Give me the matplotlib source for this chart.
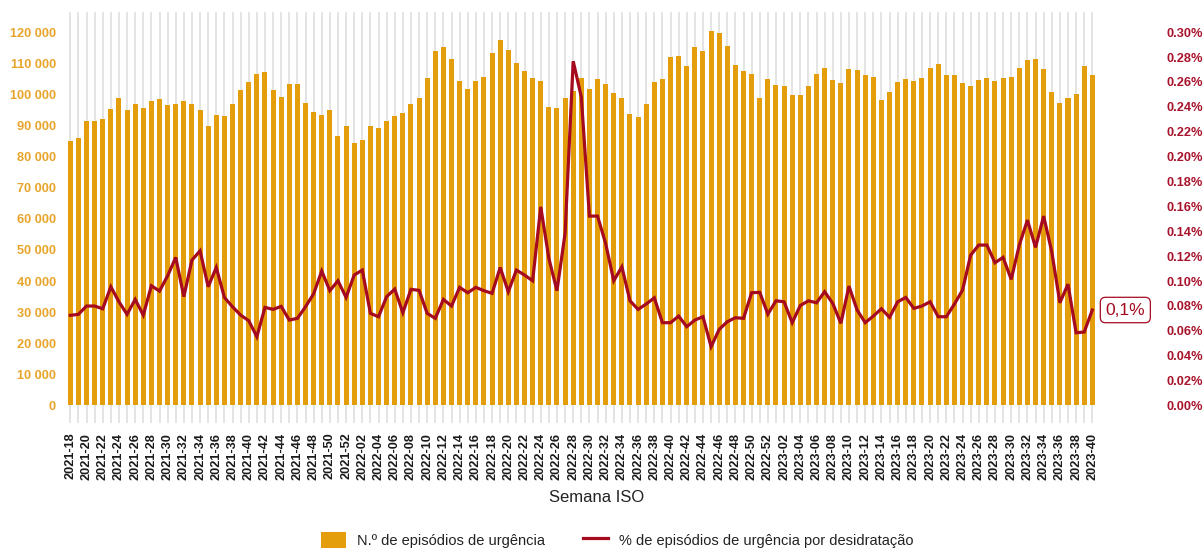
import matplotlib
matplotlib.use("Agg")
import matplotlib.pyplot as plt
from matplotlib.ticker import FuncFormatter, MultipleLocator, FixedLocator
import numpy as np

# ---------------- data ----------------
weeks = [f"2021-{w:02d}" for w in range(18, 53)] + \
        [f"2022-{w:02d}" for w in range(1, 53)] + \
        [f"2023-{w:02d}" for w in range(1, 41)]

episodios = [
    85000, 86000, 91400, 91500, 92100, 95300, 98700, 95100, 96800, 95600,
    97900, 98500, 96600, 97000, 97800, 97000, 94900, 89900, 93400, 93000,
    97000, 101400, 104100, 106500, 107200, 101500, 99100, 103200, 103500, 97300,
    94400, 93500, 95100, 86500, 89700, 84300, 85500, 89700, 89100, 91300,
    93000, 94000, 96800, 99000, 105300, 113900, 115100, 111400, 104200, 101600,
    104400, 105600, 113300, 117600, 114300, 110100, 107600, 105200, 104400, 95900,
    95500, 98700, 101000, 105300, 101900, 104800, 103200, 100300, 98800, 93600,
    92800, 96900, 104100, 104800, 111900, 112500, 109100, 115200, 113800, 120400,
    119800, 115500, 109300, 107500, 106500, 99000, 105000, 102900, 102600, 99800,
    99800, 102700, 106500, 108600, 104600, 103700, 108300, 107900, 106300, 105500,
    98200, 100800, 103900, 104900, 104300, 105300, 108600, 109900, 106200, 106200,
    103700, 102600, 104500, 105200, 104200, 105400, 105700, 108600, 111000, 111300,
    108300, 100700, 97300, 98700, 100100, 109100, 106300,
]

pct_desidratacao = [
    0.0724, 0.0732, 0.0799, 0.0799, 0.0777, 0.0954, 0.0833, 0.0732, 0.0852, 0.0726,
    0.0962, 0.0919, 0.1042, 0.1190, 0.0874, 0.1168, 0.1243, 0.0954, 0.1109, 0.0868,
    0.0793, 0.0726, 0.0681, 0.0552, 0.0788, 0.0772, 0.0796, 0.0686, 0.0700, 0.0793,
    0.0897, 0.1080, 0.0922, 0.1002, 0.0868, 0.1048, 0.1088, 0.0740, 0.0713, 0.0874,
    0.0935, 0.0745, 0.0933, 0.0925, 0.0740, 0.0700, 0.0852, 0.0799, 0.0949, 0.0906,
    0.0949, 0.0922, 0.0901, 0.1109, 0.0914, 0.1088, 0.1048, 0.1002, 0.1596, 0.1182,
    0.0922, 0.1383, 0.2767, 0.2480, 0.1522, 0.1522, 0.1302, 0.1002, 0.1114, 0.0841,
    0.0772, 0.0815, 0.0865, 0.0665, 0.0665, 0.0718, 0.0633, 0.0686, 0.0713, 0.0472,
    0.0611, 0.0673, 0.0705, 0.0700, 0.0906, 0.0909, 0.0734, 0.0841, 0.0833, 0.0665,
    0.0803, 0.0841, 0.0825, 0.0914, 0.0820, 0.0660, 0.0959, 0.0767, 0.0665, 0.0718,
    0.0777, 0.0708, 0.0833, 0.0868, 0.0780, 0.0799, 0.0833, 0.0713, 0.0713, 0.0815,
    0.0927, 0.1208, 0.1289, 0.1289, 0.1147, 0.1190, 0.1013, 0.1289, 0.1490, 0.1270,
    0.1522, 0.1235, 0.0825, 0.0975, 0.0584, 0.0590, 0.0767,
]

left_ticks = list(range(0, 120001, 10000))
right_ticks = [0.00, 0.02, 0.04, 0.06, 0.08, 0.10, 0.12, 0.14, 0.16, 0.18,
               0.20, 0.22, 0.24, 0.26, 0.28, 0.30]

label_bar = "N.º de episódios de urgência"
label_line = "% de episódios de urgência por desidratação"
xlabel = "Semana ISO"

# ---------------- style ----------------
plt.rcParams['font.family'] = ['Liberation Sans', 'DejaVu Sans']
BAR_C = '#E59E0B'
LINE_C = '#A50A1E'
LEFT_TICK_C = '#E8A428'
RIGHT_TICK_C = '#A8132C'
GRID_C = '#E4E4E4'

fig = plt.figure(figsize=(12.03, 5.5), dpi=100)
ax = fig.add_axes([64.6 / 1203, 1 - 423.3 / 550, (1098 - 64.6) / 1203, (423.3 - 12) / 550])

x = np.arange(len(weeks))
ax.bar(x, episodios, width=0.62, color=BAR_C, zorder=2, label=label_bar)

ax.set_xlim(-0.7, len(weeks) - 1 + 0.7)
ymin, ymax = -5750, 126500
ax.set_ylim(ymin, ymax)
ax.yaxis.set_major_locator(FixedLocator(left_ticks))
ax.yaxis.set_major_formatter(FuncFormatter(lambda v, p: f"{int(v):,}".replace(",", " ")))

ax.set_xticks(x[::2])
ax.set_xticklabels(weeks[::2], rotation=90, fontsize=9.2, fontweight='bold', color='#1a1a1a')
ax.set_xticks(x[1::2], minor=True)
ax.grid(True, axis='x', which='both', color=GRID_C, lw=1.4, zorder=0)
ax.set_axisbelow(True)
ax.tick_params(axis='x', which='both', length=0, pad=6.8)
ax.tick_params(axis='y', length=0, pad=6.2, labelsize=9.2, labelcolor=LEFT_TICK_C)
for t in ax.get_yticklabels():
    t.set_fontweight('bold')
for s in ax.spines.values():
    s.set_visible(False)

scale = 0.30 / 120000
ax2 = ax.twinx()
ax2.plot(x, pct_desidratacao, color=LINE_C, lw=2.3, zorder=5, label=label_line,
         solid_joinstyle='miter')
ax2.set_ylim(ymin * scale, ymax * scale)
ax2.yaxis.set_major_locator(FixedLocator(right_ticks))
ax2.yaxis.set_major_formatter(FuncFormatter(lambda v, p: f"{v:.2f}%"))
ax2.tick_params(axis='y', length=0, pad=49, labelsize=9.2, labelcolor=RIGHT_TICK_C)
for t in ax2.get_yticklabels():
    t.set_fontweight('bold')
for s in ax2.spines.values():
    s.set_visible(False)

last = pct_desidratacao[-1]
ax2.annotate(f"{last:.1f}%".replace(".", ","), xy=(x[-1], last), xytext=(9.5, 0),
             textcoords='offset points', ha='left', va='center', fontsize=12.5,
             color=LINE_C,
             bbox=dict(boxstyle='round,pad=0.3,rounding_size=0.3', fc='white', ec=LINE_C, lw=0.9),
             annotation_clip=False)

fig.text(0.496, 1 - 497 / 550, xlabel, ha='center', va='center', fontsize=12, color='#222222')

h1, l1 = ax.get_legend_handles_labels()
h2, l2 = ax2.get_legend_handles_labels()
fig.legend(h1 + h2, l1 + l2, loc='center', bbox_to_anchor=(0.513, 1 - 540 / 550),
           ncol=2, frameon=False, fontsize=10.5, handlelength=1.7, handleheight=1.4,
           handletextpad=0.75, columnspacing=2.6, labelcolor='#222222')

fig.savefig("out.png", dpi=100)
